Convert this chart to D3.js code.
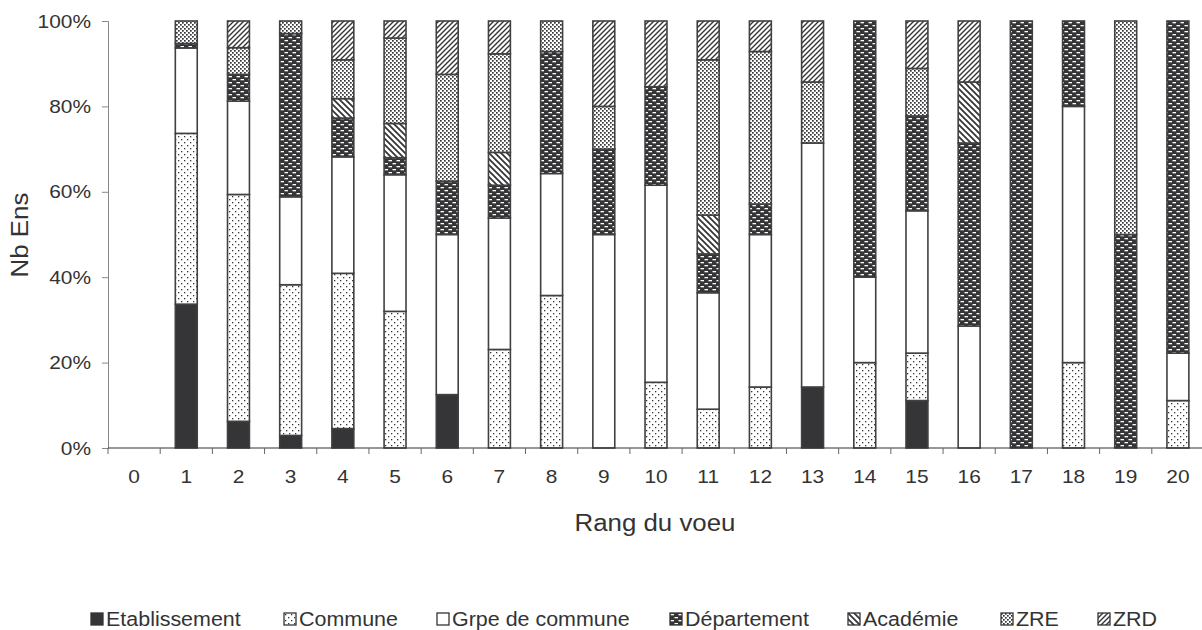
<html>
<head>
  <script src="https://d3js.org/d3.v7.min.js"></script>
  <style>
    body { margin: 0; background: white; }
    text { font-family: "Liberation Sans", Arial, sans-serif; fill: #333; }
  </style>
</head>
<body>
  <svg id="chart" width=1202 height=630></svg>
  <script>
    // rang du voeu 0..20
    const rangs = d3.range(0, 21);
    const types = ["Etablissement", "Commune", "Grpe de commune", "Département", "Académie", "ZRE", "ZRD"];

    // nombre d'enseignants par rang, dans l'ordre des types
    const etablissement = [0, 32, 2, 1, 1, 0, 1, 0, 0, 0, 0, 0, 0, 1, 0, 1, 0, 0, 0, 0, 0];
    const commune       = [0, 38, 17, 12, 8, 8, 0, 3, 5, 0, 2, 1, 2, 0, 1, 1, 0, 0, 1, 0, 1];
    const grpe          = [0, 19, 7, 7, 6, 8, 3, 4, 4, 5, 6, 3, 5, 4, 1, 3, 2, 0, 3, 0, 1];
    const departement   = [0, 1, 2, 13, 2, 1, 1, 1, 4, 2, 3, 1, 1, 0, 3, 2, 3, 1, 1, 1, 7];
    const academie      = [0, 0, 0, 0, 1, 2, 0, 1, 0, 0, 0, 1, 0, 0, 0, 0, 1, 0, 0, 0, 0];
    const zre           = [0, 5, 2, 1, 2, 5, 2, 3, 1, 1, 0, 4, 5, 1, 0, 1, 0, 0, 0, 1, 0];
    const zrd           = [0, 0, 2, 0, 2, 1, 1, 1, 0, 2, 2, 1, 1, 1, 0, 1, 1, 0, 0, 0, 0];

    const series = [etablissement, commune, grpe, departement, academie, zre, zrd];
    const yTicks = [0, 0.2, 0.4, 0.6, 0.8, 1];

    const rows = rangs.map((r, i) => {
      let o = {rang: r};
      types.forEach((t, k) => o[t] = series[k][i]);
      return o;
    });

    let svg = d3.select("svg#chart");
    const dark = "#353538";

    // texte un peu elargi, comme dans l'original
    function widen(sel, f) {
      sel.each(function() {
        let w = this.getComputedTextLength();
        d3.select(this).attr("textLength", w * f).attr("lengthAdjust", "spacingAndGlyphs");
      });
    }

    // motifs noir et blanc
    let defs = svg.append("defs");
    function pat(id, w, h) {
      return defs.append("pattern").attr("id", id)
        .attr("patternUnits", "userSpaceOnUse").attr("width", w).attr("height", h);
    }
    let p;
    p = pat("p-commune", 6, 6);
    p.append("rect").attr("width", 6).attr("height", 6).attr("fill", "white");
    p.append("rect").attr("x", 1).attr("y", 1).attr("width", 1.3).attr("height", 1.3).attr("fill", dark);
    p.append("rect").attr("x", 4).attr("y", 4).attr("width", 1.3).attr("height", 1.3).attr("fill", dark);

    p = pat("p-dept", 8, 6);
    p.append("rect").attr("width", 8).attr("height", 6).attr("fill", dark);
    p.append("rect").attr("x", 0.5).attr("y", 1).attr("width", 3.5).attr("height", 1.3).attr("fill", "white");
    p.append("rect").attr("x", 4.5).attr("y", 4).attr("width", 3.5).attr("height", 1.3).attr("fill", "white");

    p = pat("p-acad", 6, 6);
    p.append("rect").attr("width", 6).attr("height", 6).attr("fill", "white");
    p.append("path").attr("d", "M0,0L6,6M-3,3L3,9M3,-3L9,3").attr("stroke", dark).attr("stroke-width", 1.8);

    p = pat("p-zre", 4, 4);
    p.append("rect").attr("width", 4).attr("height", 4).attr("fill", "white");
    p.append("rect").attr("x", 0).attr("y", 0).attr("width", 1.7).attr("height", 1.7).attr("fill", dark);
    p.append("rect").attr("x", 2).attr("y", 2).attr("width", 1.7).attr("height", 1.7).attr("fill", dark);

    p = pat("p-zrd", 5, 5);
    p.append("rect").attr("width", 5).attr("height", 5).attr("fill", "white");
    p.append("path").attr("d", "M0,5L5,0M-2.5,2.5L2.5,-2.5M2.5,7.5L7.5,2.5").attr("stroke", dark).attr("stroke-width", 1.4);

    const fills = {
      "Etablissement": dark,
      "Commune": "url(#p-commune)",
      "Grpe de commune": "white",
      "Département": "url(#p-dept)",
      "Académie": "url(#p-acad)",
      "ZRE": "url(#p-zre)",
      "ZRD": "url(#p-zrd)"
    };

    let x = d3.scaleBand()
              .domain(rangs)
              .range([108, 1204])
              .paddingInner(0.58)
              .paddingOuter(0.29);

    let y = d3.scaleLinear()
              .domain([0, 1])
              .range([448, 21]);

    const stacked = d3.stack().keys(types).offset(d3.stackOffsetExpand)(rows);

    stacked.forEach(s => {
      svg.append("g").selectAll("rect")
        .data(s.filter(d => d[1] - d[0] > 0))
        .join("rect")
          .attr("x", d => x(d.data.rang))
          .attr("width", x.bandwidth())
          .attr("y", d => y(d[1]))
          .attr("height", d => y(d[0]) - y(d[1]))
          .attr("fill", fills[s.key])
          .attr("stroke", "#404040")
          .attr("stroke-width", 1.6);
    });

    // axe y
    let yAxis = svg.append("g")
        .attr("transform", "translate(108,0)")
        .call(d3.axisLeft(y).tickValues(yTicks).tickFormat(d3.format(".0%")).tickSize(6).tickPadding(11));
    yAxis.select(".domain").attr("stroke", "#888");
    yAxis.selectAll(".tick line").attr("stroke", "#888");
    yAxis.selectAll("text").style("font-size", "19px").attr("fill", "#333");
    widen(yAxis.selectAll("text"), 1.1);

    // axe x
    let xAxis = svg.append("g")
        .attr("transform", "translate(0,448)")
        .call(d3.axisBottom(x).tickSize(0).tickPadding(22));
    xAxis.select(".domain").remove();
    xAxis.selectAll("text").style("font-size", "19px").attr("fill", "#333");
    widen(xAxis.selectAll("text"), 1.1);

    svg.append("line")
        .attr("x1", 108).attr("x2", 1204)
        .attr("y1", 448).attr("y2", 448)
        .attr("stroke", "#333").attr("stroke-width", 1.2);

    const gap = (x.step() - x.bandwidth()) / 2;
    rangs.forEach(r => {
      svg.append("line")
          .attr("x1", x(r) - gap).attr("x2", x(r) - gap)
          .attr("y1", 448).attr("y2", 454)
          .attr("stroke", "#666").attr("stroke-width", 1);
    });

    let xTitle = svg.append("text")
        .text("Rang du voeu")
        .attr("x", 655).attr("y", 531)
        .style("font-size", "23.5px")
        .style("text-anchor", "middle");
    widen(xTitle, 1.1);

    let yTitle = svg.append("text")
        .text("Nb Ens")
        .attr("transform", "translate(28,235) rotate(-90)")
        .style("font-size", "23.5px")
        .style("text-anchor", "middle");
    widen(yTitle, 1.1);

    // légende
    const legendX = [91, 284, 437, 670, 848, 1001, 1098];
    types.forEach((t, k) => {
      let g = svg.append("g").attr("transform", `translate(${legendX[k]},613)`);
      g.append("rect")
          .attr("width", 12).attr("height", 12)
          .attr("fill", fills[t])
          .attr("stroke", dark).attr("stroke-width", 1.3);
      let txt = g.append("text")
          .text(t)
          .attr("x", 15).attr("y", 13)
          .style("font-size", "19.5px");
      widen(txt, 1.1);
    });
  </script>
</body>
</html>
